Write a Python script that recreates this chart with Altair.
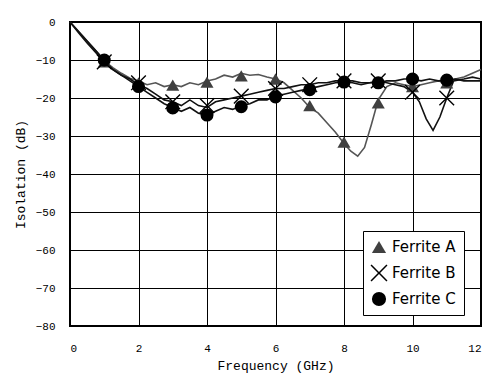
import altair as alt
import pandas as pd

series_names = ["Ferrite A", "Ferrite B", "Ferrite C"]

freq_a = [0, 0.25, 0.5, 0.75, 1.0, 1.25, 1.5, 1.75, 2.0, 2.25, 2.5, 2.75, 3.0, 3.25, 3.5, 3.75,
          4.0, 4.25, 4.5, 4.75, 5.0, 5.25, 5.5, 5.75, 6.0, 6.25, 6.5, 6.75, 7.0, 7.25, 7.5, 7.75,
          8.0, 8.2, 8.4, 8.6, 8.8, 9.0, 9.25, 9.5, 9.75, 10.0, 10.25, 10.5, 10.75, 11.0, 11.25,
          11.5, 11.75, 12.0]
iso_a = [0, -2.5, -5, -7.5, -10.2, -12, -13.5, -14.8, -15.5, -16.5, -16, -17, -16.5, -17, -16,
         -16.5, -15.5, -15, -14, -14.5, -13.5, -14, -13.8, -14.5, -15, -16, -18, -20, -22.5, -24,
         -26.5, -29, -32, -34, -35.3, -33, -27, -20.5, -17, -16, -16.5, -17, -16.5, -16, -15.5,
         -16, -15, -14.5, -13.5, -12.5]

freq_b = [0, 0.25, 0.5, 0.75, 1.0, 1.25, 1.5, 1.75, 2.0, 2.25, 2.5, 2.75, 3.0, 3.25, 3.5, 3.75,
          4.0, 4.25, 4.5, 4.75, 5.0, 5.25, 5.5, 5.75, 6.0, 6.25, 6.5, 6.75, 7.0, 7.25, 7.5, 7.75,
          8.0, 8.25, 8.5, 8.75, 9.0, 9.25, 9.5, 9.75, 10.0, 10.2, 10.4, 10.6, 10.8, 11.0, 11.2,
          11.5, 11.75, 12.0]
iso_b = [0, -2.8, -5.5, -8, -10.5, -12.5, -14, -15, -16.5, -17.5, -19, -20.5, -21, -22, -20.5,
         -22, -22.5, -21, -20.5, -20, -19.5, -19, -18.5, -18, -17.5, -17.5, -17, -16.5, -16.5,
         -16, -16, -15.5, -15.5, -15.5, -16, -16, -15.5, -16, -16.5, -17, -18.5, -21, -25.5,
         -28.5, -25, -20, -15.5, -15, -14.5, -15]

freq_c = [0, 0.25, 0.5, 0.75, 1.0, 1.25, 1.5, 1.75, 2.0, 2.25, 2.5, 2.75, 3.0, 3.25, 3.5, 3.75,
          4.0, 4.25, 4.5, 4.75, 5.0, 5.25, 5.5, 5.75, 6.0, 6.25, 6.5, 6.75, 7.0, 7.25, 7.5, 7.75,
          8.0, 8.25, 8.5, 8.75, 9.0, 9.25, 9.5, 9.75, 10.0, 10.25, 10.5, 10.75, 11.0, 11.25,
          11.5, 11.75, 12.0]
iso_c = [0, -2.5, -5, -7.5, -10, -12.5, -14, -15.5, -17, -18.5, -20, -21.5, -22.5, -23.5, -22.5,
         -24, -24.5, -23.5, -22.5, -23, -22, -21.5, -20.5, -20.5, -19.5, -19, -18.5, -18, -17.5,
         -17, -16.5, -16, -15.8, -16, -16.5, -16, -16, -15.5, -15.5, -15, -15, -15.5, -15, -15.5,
         -15.3, -15, -15.5, -15.5, -15.5]

marker_freq = [1, 2, 3, 4, 5, 6, 7, 8, 9, 10, 11]
marker_a = [-10.5, -16, -16.6, -15.8, -14.2, -15, -22, -31.6, -21.3, -17, -16]
marker_b = [-10.5, -16, -21, -22, -19.5, -17.5, -16.5, -15.5, -15.5, -18.5, -20]
marker_c = [-10, -17, -22.6, -24.5, -22.3, -19.7, -17.8, -15.8, -16, -15, -15.3]

lines = pd.concat([
    pd.DataFrame({"f": freq_a, "v": iso_a, "ls": series_names[0]}),
    pd.DataFrame({"f": freq_b, "v": iso_b, "ls": series_names[1]}),
    pd.DataFrame({"f": freq_c, "v": iso_c, "ls": series_names[2]}),
])
marks = pd.concat([
    pd.DataFrame({"f": marker_freq, "v": marker_a, "s": series_names[0]}),
    pd.DataFrame({"f": marker_freq, "v": marker_b, "s": series_names[1]}),
    pd.DataFrame({"f": marker_freq, "v": marker_c, "s": series_names[2]}),
])

mono = "Liberation Mono"
xs = alt.Scale(domain=[0, 12], nice=False)
ys = alt.Scale(domain=[-80, 0], nice=False)
x_enc = alt.X("f:Q", scale=xs, title="Frequency (GHz)",
              axis=alt.Axis(values=[0, 2, 4, 6, 8, 10, 12], ticks=False, domain=False,
                            gridColor="#000000", gridOpacity=1, gridWidth=1,
                            labelPadding=16, titlePadding=6))
y_enc = alt.Y("v:Q", scale=ys, title="Isolation (dB)",
              axis=alt.Axis(values=list(range(-80, 1, 10)), ticks=False, domain=False,
                            gridColor="#000000", gridOpacity=1, gridWidth=1,
                            labelPadding=15, titlePadding=8))

line_a = alt.Chart(lines).transform_filter(
    alt.datum.ls == series_names[0]
).mark_line(strokeWidth=1.6, color="#555555").encode(x=x_enc, y=y_enc)

line_bc = alt.Chart(lines).transform_filter(
    alt.datum.ls != series_names[0]
).mark_line(strokeWidth=1.6, color="#111111").encode(x=x_enc, y=y_enc, detail="ls:N")

legend = alt.Legend(orient="none", legendX=293, legendY=209, title=None,
                    strokeColor="#000000", fillColor="#ffffff",
                    padding=8, labelFont="DejaVu Sans", labelFontSize=15,
                    labelColor="#000000", symbolSize=200, rowPadding=9,
                    labelOffset=5)

x_shape = "M-1.2,-1.05L-1.05,-1.2L0,-0.15L1.05,-1.2L1.2,-1.05L0.15,0L1.2,1.05L1.05,1.2L0,0.15L-1.05,1.2L-1.2,1.05L-0.15,0Z"
point_layer = alt.Chart(marks).mark_point(filled=True, opacity=1, size=170).encode(
    x=x_enc, y=y_enc,
    color=alt.Color("s:N", scale=alt.Scale(domain=series_names,
                                           range=["#404040", "#000000", "#000000"]),
                    title=None, legend=legend),
    shape=alt.Shape("s:N", scale=alt.Scale(domain=series_names,
                                           range=["triangle-up", x_shape, "circle"]),
                    title=None, legend=legend),
)

chart = alt.layer(line_a, line_bc, point_layer).properties(
    width=411, height=304,
    background="#ffffff",
    autosize=alt.AutoSizeParams(type="none"),
    padding={"left": 70, "top": 22, "right": 9, "bottom": 54},
).configure_view(stroke="#000000", strokeWidth=2).configure_axis(
    labelFont=mono, labelFontSize=11, labelColor="#000000",
    titleFont=mono, titleFontSize=13, titleFontWeight="normal", titleColor="#000000",
)

chart.save("out.html", embed_options={"renderer": "svg", "actions": False})
